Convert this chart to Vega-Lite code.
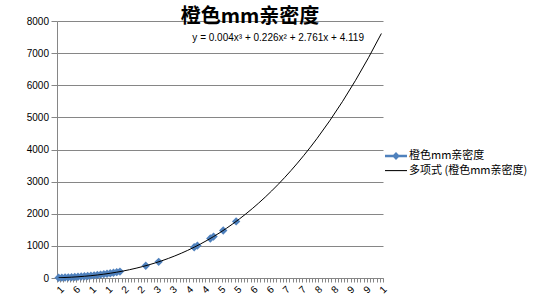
{
  "$schema": "https://vega.github.io/schema/vega-lite/v6.json",
  "width": 326,
  "height": 257,
  "autosize": "none",
  "padding": {"left": 57, "top": 21, "right": 154, "bottom": 27},
  "background": "white",
  "title": {"text": "橙色mm亲密度", "font": "Noto Sans CJK SC", "fontSize": 20, "fontWeight": "bold", "color": "#000000", "anchor": "middle", "frame": "group", "dx": 30, "offset": -11},
  "config": {"view": {"stroke": null}},
  "data": {"values": [
    {"x": 1, "y": 7}, {"x": 2, "y": 11}, {"x": 3, "y": 15}, {"x": 4, "y": 20}, {"x": 5, "y": 25},
    {"x": 6, "y": 32}, {"x": 7, "y": 38}, {"x": 8, "y": 46}, {"x": 9, "y": 54}, {"x": 10, "y": 63},
    {"x": 11, "y": 72}, {"x": 12, "y": 83}, {"x": 13, "y": 94}, {"x": 14, "y": 106}, {"x": 15, "y": 119},
    {"x": 16, "y": 133}, {"x": 17, "y": 148}, {"x": 18, "y": 164}, {"x": 19, "y": 181}, {"x": 20, "y": 199},
    {"x": 21, "y": null},
    {"x": 28, "y": 382}, {"x": 29, "y": null},
    {"x": 32, "y": 504}, {"x": 33, "y": null},
    {"x": 43, "y": 958}, {"x": 44, "y": 1008}, {"x": 45, "y": null},
    {"x": 48, "y": 1230}, {"x": 49, "y": 1289}, {"x": 50, "y": null},
    {"x": 52, "y": 1480}, {"x": 53, "y": null},
    {"x": 56, "y": 1761}
  ]},
  "resolve": {"axis": {"x": "independent"}},
  "layer": [
    {
      "mark": {"type": "line", "color": "#4F81BD", "strokeWidth": 2.25},
      "encoding": {
        "x": {"field": "x", "type": "quantitative", "scale": {"domain": [0.5, 101.5], "nice": false, "zero": false}, "axis": null},
        "y": {"field": "y", "type": "quantitative", "scale": {"domain": [0, 8000], "nice": false},
          "axis": {"title": null, "format": "d", "values": [0, 1000, 2000, 3000, 4000, 5000, 6000, 7000, 8000], "grid": true, "gridColor": "#868686", "gridOpacity": 1, "domainColor": "#868686", "tickColor": "#868686", "tickSize": 6, "labelPadding": 2.5, "labelFont": "Liberation Sans", "labelFontSize": 10, "labelColor": "#000000"}}
      }
    },
    {
      "mark": {"type": "point", "shape": "diamond", "filled": true, "size": 70, "opacity": 1, "color": "#4F81BD"},
      "encoding": {
        "x": {"field": "x", "type": "quantitative",
          "axis": {"orient": "bottom", "title": null, "values": [1, 6, 11, 16, 21, 26, 31, 36, 41, 46, 51, 56, 61, 66, 71, 76, 81, 86, 91, 96, 101], "labelExpr": "substring(toString(datum.value), 0, 1)", "ticks": false, "grid": false, "domainColor": "#868686", "labelAngle": -45, "labelPadding": 6, "labelFont": "Liberation Sans", "labelFontSize": 10, "labelColor": "#000000"}},
        "y": {"field": "y", "type": "quantitative",
          "axis": {"title": null, "format": "d", "values": [0, 1000, 2000, 3000, 4000, 5000, 6000, 7000, 8000], "grid": true, "gridColor": "#868686", "gridOpacity": 1, "domainColor": "#868686", "tickColor": "#868686", "tickSize": 6, "labelPadding": 2.5, "labelFont": "Liberation Sans", "labelFontSize": 10, "labelColor": "#000000"}}
      }
    },
    {
      "transform": [
        {"filter": "datum.y != null"},
        {"regression": "y", "on": "x", "method": "poly", "order": 3, "extent": [1, 101]}
      ],
      "mark": {"type": "line", "color": "#000000", "strokeWidth": 1, "clip": true},
      "encoding": {
        "x": {"field": "x", "type": "quantitative",
          "axis": {"orient": "bottom", "title": null, "labels": false, "domain": false, "grid": false, "ticks": true, "tickSize": 4, "tickColor": "#868686",
            "values": [0.5,1.5,2.5,3.5,4.5,5.5,6.5,7.5,8.5,9.5,10.5,11.5,12.5,13.5,14.5,15.5,16.5,17.5,18.5,19.5,20.5,21.5,22.5,23.5,24.5,25.5,26.5,27.5,28.5,29.5,30.5,31.5,32.5,33.5,34.5,35.5,36.5,37.5,38.5,39.5,40.5,41.5,42.5,43.5,44.5,45.5,46.5,47.5,48.5,49.5,50.5,51.5,52.5,53.5,54.5,55.5,56.5,57.5,58.5,59.5,60.5,61.5,62.5,63.5,64.5,65.5,66.5,67.5,68.5,69.5,70.5,71.5,72.5,73.5,74.5,75.5,76.5,77.5,78.5,79.5,80.5,81.5,82.5,83.5,84.5,85.5,86.5,87.5,88.5,89.5,90.5,91.5,92.5,93.5,94.5,95.5,96.5,97.5,98.5,99.5,100.5,101.5]}},
        "y": {"field": "y", "type": "quantitative",
          "axis": {"title": null, "format": "d", "values": [0, 1000, 2000, 3000, 4000, 5000, 6000, 7000, 8000], "grid": true, "gridColor": "#868686", "gridOpacity": 1, "domainColor": "#868686", "tickColor": "#868686", "tickSize": 6, "labelPadding": 2.5, "labelFont": "Liberation Sans", "labelFontSize": 10, "labelColor": "#000000"}}
      }
    },
    {
      "data": {"values": [{"eq": "y = 0.004x³ + 0.226x² + 2.761x + 4.119"}]},
      "mark": {"type": "text", "align": "right", "baseline": "middle", "font": "Liberation Sans", "fontSize": 10, "color": "#000000"},
      "encoding": {
        "x": {"datum": 95.6, "type": "quantitative", "axis": null},
        "y": {"datum": 7474, "type": "quantitative",
          "axis": {"title": null, "format": "d", "values": [0, 1000, 2000, 3000, 4000, 5000, 6000, 7000, 8000], "grid": true, "gridColor": "#868686", "gridOpacity": 1, "domainColor": "#868686", "tickColor": "#868686", "tickSize": 6, "labelPadding": 2.5, "labelFont": "Liberation Sans", "labelFontSize": 10, "labelColor": "#000000"}},
        "text": {"field": "eq"}
      }
    },
    {
      "data": {"values": [{"series": "橙色mm亲密度"}, {"series": "多项式 (橙色mm亲密度)"}]},
      "transform": [{"filter": "false"}],
      "mark": {"type": "point", "filled": true, "opacity": 1},
      "encoding": {
        "color": {"field": "series", "type": "nominal",
          "scale": {"domain": ["橙色mm亲密度", "多项式 (橙色mm亲密度)"], "range": ["#4F81BD", "#000000"]},
          "legend": {"title": null, "orient": "none", "legendX": 332, "legendY": 128, "padding": 0, "symbolSize": 196, "symbolStrokeWidth": 0, "labelOffset": 6, "rowPadding": 2.6, "labelFont": "Noto Sans CJK SC", "labelFontSize": 11, "labelColor": "#000000"}},
        "shape": {"field": "series", "type": "nominal",
          "scale": {"domain": ["橙色mm亲密度", "多项式 (橙色mm亲密度)"], "range": ["M-1.57,-0.17H1.57V0.17H-1.57Z M0,-0.56L0.56,0L0,0.56L-0.56,0Z", "M-1.57,-0.075H1.57V0.075H-1.57Z"]},
          "legend": {"title": null, "orient": "none", "legendX": 332, "legendY": 128, "padding": 0, "symbolSize": 196, "symbolStrokeWidth": 0, "labelOffset": 6, "rowPadding": 2.6, "labelFont": "Noto Sans CJK SC", "labelFontSize": 11, "labelColor": "#000000"}}
      }
    }
  ]
}
